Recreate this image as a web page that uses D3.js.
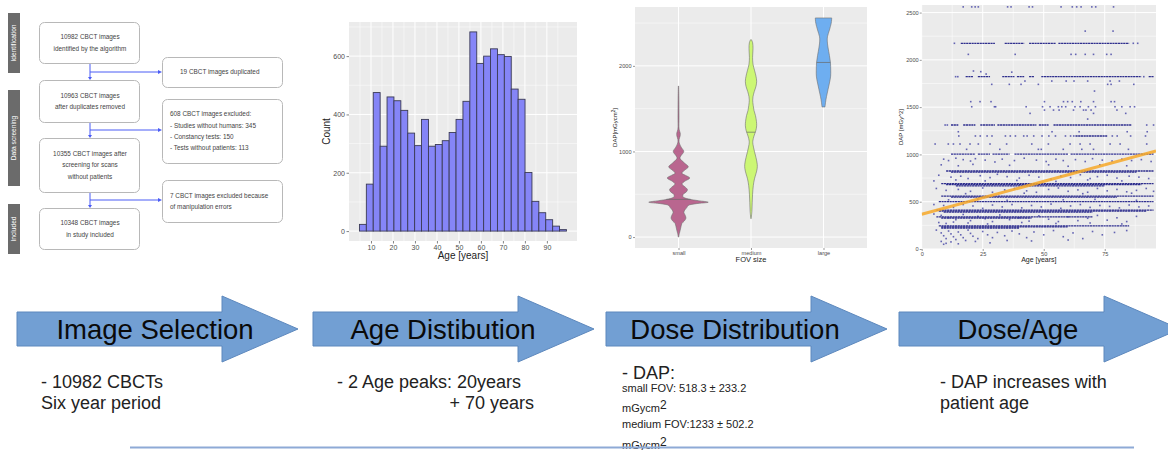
<!DOCTYPE html>
<html><head><meta charset="utf-8">
<script src="https://cdn.jsdelivr.net/npm/d3@7"></script>
<style>
html,body{margin:0;padding:0;background:#fff;}
svg{display:block;font-family:"Liberation Sans",Arial,Helvetica,sans-serif;}
</style></head><body>
<svg id="chart" width="1168" height="450"></svg>
<script>
// ---------- flow diagram text ----------
const flowStages = ["Identification", "Data screening", "Included"];
const flowMain = [
  ["10982 CBCT images", "identified by the algorithm"],
  ["10963 CBCT images", "after duplicates removed"],
  ["10355 CBCT images after", "screening for scans", "without patients"],
  ["10348 CBCT images", "in study included"]
];
const flowExcluded = [
  ["19 CBCT images duplicated"],
  ["608 CBCT images excluded:", "-  Studies without humans: 345", "-  Constancy tests: 150", "-  Tests without patients: 113"],
  ["7 CBCT images excluded because", "of manipulation errors"]
];

// ---------- age histogram ----------
const ageBinCounts = [23, 161, 475, 291, 460, 447, 414, 336, 293, 383, 291, 297, 310, 338, 383,
                      445, 683, 575, 600, 625, 605, 599, 487, 452, 201, 102, 63, 39, 17, 5];
const ageBinRange = [4.75, 98.9];
const ageTicks = [10, 20, 30, 40, 50, 60, 70, 80, 90];
const countTicks = [0, 200, 400, 600];

// ---------- DAP by FOV size (violin profiles: [DAP, density]) ----------
const fovCategories = ["small", "medium", "large"];
const fovColors = ["#b9668f", "#ccf774", "#6eaef0"];
const smallFovDensity = [
  [0, 0.7], [40, 2.7], [80, 5.7], [120, 8.3], [160, 11.7], [190, 20], [220, 25], [250, 23],
  [290, 18], [320, 22], [345, 28], [370, 33], [390, 60], [407, 100], [425, 67], [445, 33],
  [470, 15], [500, 16], [530, 27], [555, 30], [585, 22], [620, 11.7], [650, 20], [690, 38],
  [720, 24], [745, 11.7], [775, 18], [820, 33], [865, 20], [920, 5], [950, 8.3], [1000, 17.7],
  [1050, 9], [1100, 2.5], [1140, 2], [1185, 5.7], [1215, 5.7], [1260, 2], [1400, 1.7],
  [1600, 1.3], [1764, 0.6]
];
const mediumFovDensity = [
  [215, 0.5], [300, 3], [400, 4], [500, 5.3], [600, 7.7], [680, 11.7], [740, 16.7], [800, 20.7],
  [850, 21], [930, 16.7], [1000, 11.7], [1080, 6.7], [1120, 6], [1180, 10], [1240, 16],
  [1300, 19], [1350, 18.3], [1420, 15], [1480, 10], [1540, 7.3], [1600, 5.7], [1640, 6.7],
  [1700, 11], [1760, 16.7], [1820, 19], [1880, 16.7], [1950, 11.7], [2020, 6.7], [2100, 5.3],
  [2200, 6.7], [2270, 5.5], [2305, 1.5]
];
const largeFovDensity = [
  [1520, 5], [1570, 6.7], [1640, 10], [1720, 15], [1800, 20], [1880, 24], [1950, 24.3],
  [2040, 23.3], [2120, 20], [2220, 15], [2290, 12.7], [2340, 13.3], [2420, 20], [2500, 26],
  [2560, 27.7]
];
const fovMedians = [440, 1225, 2040];
const dapTicksV = [0, 1000, 2000];

// ---------- DAP vs age scatter ----------
const dapTicksS = [0, 500, 1000, 1500, 2000, 2500];
const ageTicksS = [0, 25, 50, 75];
// dense horizontal streaks of repeated DAP values: [DAP, from age, to age]
const dapBands = [
  [2175, 16, 30], [2175, 34, 42], [2175, 44, 55], [2175, 56, 85],
  [1822, 18, 21], [1822, 23, 28], [1822, 33, 38], [1822, 39, 42], [1822, 44, 46], [1822, 49, 90], [1822, 93, 95],
  [1311, 12, 15], [1311, 17, 22], [1311, 24, 30], [1311, 31, 47], [1311, 48, 52], [1311, 54, 86],
  [1195, 63, 76],
  [1004, 12, 22], [1004, 23, 28], [1004, 29, 36], [1004, 38, 60], [1004, 61, 95],
  [825, 10, 95], [812, 12, 88],
  [692, 8, 95], [680, 10, 90], [668, 14, 75],
  [560, 8, 95], [548, 12, 80],
  [500, 7, 95],
  [410, 6, 95], [400, 7, 92], [390, 9, 70],
  [340, 6, 70], [328, 8, 45],
  [245, 7, 85], [235, 8, 60], [222, 8, 40]
];
const dapPoints = [
  [17, 2560], [20.5, 2560], [21.9, 2560], [23.2, 2560], [35.2, 2560], [36.6, 2560], [44, 2560], [45.4, 2560],
  [57.1, 2560], [61.7, 2560], [63.5, 2560], [65.3, 2560], [69.7, 2560], [71.3, 2560], [78.6, 2560],
  [67, 2304], [78.4, 2304],
  [13.4, 2175], [86.7, 2175], [88.5, 2175],
  [19.1, 2058], [38.3, 2058], [61.2, 2058], [63.1, 2058], [67, 2058], [70.4, 2058], [75.8, 2058], [77.6, 2058],
  [21.2, 1882], [24.2, 1875], [26.4, 1850], [36.9, 1870],
  [13.9, 1822], [14.8, 1822], [91, 1822],
  [42.3, 1776], [53.3, 1776], [59.2, 1776], [62.4, 1776], [68, 1776], [77.2, 1776], [81, 1776],
  [28.7, 1741], [35.9, 1741], [40.7, 1741], [47.8, 1741], [86.9, 1741], [77.6, 1741], [76.2, 1741],
  [70.8, 1670],
  [20.1, 1558], [23.9, 1558], [28.4, 1558], [50.3, 1558], [58.1, 1558], [59.8, 1558], [61.7, 1558],
  [65.2, 1558], [70.4, 1558], [77.6, 1558], [79, 1558],
  [20.5, 1504], [29.8, 1504], [30.3, 1504], [42.8, 1504], [49.5, 1504], [52.6, 1504], [56, 1504],
  [57.4, 1504], [59, 1504], [62.8, 1504], [64.9, 1504], [68.3, 1504], [71.2, 1504], [79.2, 1504],
  [82, 1504], [85.4, 1504], [87.2, 1504],
  [50.3, 1469], [54, 1469], [56.3, 1469], [62.2, 1469], [66.3, 1469], [67.3, 1469], [69.4, 1469], [80, 1469],
  [44.4, 1434], [70.4, 1434], [83.6, 1434],
  [68, 1374],
  [9.6, 1311], [10.5, 1311], [92.2, 1311], [95, 1311],
  [15, 1240], [53.4, 1240], [64.5, 1240], [84.2, 1240], [92.4, 1240],
  [15.2, 1195], [22, 1195], [24, 1195], [26.8, 1195], [28.8, 1195], [34.3, 1195], [36.3, 1195],
  [38.4, 1195], [41.8, 1195], [43.2, 1195], [45.9, 1195], [49.3, 1195], [52.1, 1195], [54.8, 1195],
  [58.9, 1195], [61, 1195], [62.3, 1195], [78.1, 1195], [80.1, 1195], [85.6, 1195], [91.7, 1195],
  [5.5, 1110], [10.9, 1110], [13, 1110], [15.7, 1110], [19.8, 1110], [23.2, 1110], [28, 1110],
  [34.8, 1110], [45.1, 1110], [51.9, 1110], [60.8, 1110], [64.9, 1110], [69, 1110], [77.2, 1110],
  [81.3, 1110], [92.2, 1110],
  [18.4, 1054], [32, 1054], [47.8, 1054], [49, 1054], [58, 1054], [65.6, 1054], [70.4, 1054], [84.7, 1054],
  [9, 950], [11, 935], [14, 960], [17, 945], [20, 930], [22, 955], [26, 940], [30, 920], [33, 950],
  [38, 935], [42, 960], [47, 940], [51, 925], [55, 950], [58, 935], [63, 945], [67, 925], [70, 955],
  [74, 940], [78, 930], [82, 950], [86, 935], [90, 945], [94, 925],
  [8, 890], [15, 880], [21, 895], [36, 885], [52, 890], [60, 875], [73, 890], [84, 880],
  [7, 780], [12, 760], [16, 770], [19, 745], [24, 775], [28, 755], [31, 790], [35, 765], [40, 750],
  [44, 780], [48, 760], [53, 740], [57, 770], [61, 755], [65, 785], [69, 745], [72, 765], [76, 780],
  [80, 750], [85, 770], [89, 760], [93, 745], [5, 720], [14, 730], [26, 720], [39, 725], [55, 715],
  [68, 730], [82, 720],
  [6, 640], [10, 620], [15, 630], [20, 610], [25, 645], [29, 600], [34, 625], [38, 640], [43, 615],
  [47, 600], [52, 630], [56, 645], [60, 610], [64, 625], [68, 600], [72, 640], [76, 615], [80, 630],
  [84, 605], [88, 620], [92, 640], [95, 610], [18, 585], [42, 590], [66, 585], [86, 590],
  [5, 470], [9, 460], [13, 440], [17, 470], [21, 455], [25, 430], [29, 465], [33, 445], [37, 470],
  [41, 435], [45, 460], [49, 445], [53, 475], [57, 430], [61, 455], [65, 470], [69, 440], [73, 460],
  [77, 450], [81, 435], [85, 465], [89, 445], [93, 455],
  [11, 520], [23, 525], [35, 515], [58, 520], [71, 525], [88, 515],
  [5, 370], [8, 355], [11, 330], [14, 310], [17, 365], [20, 300], [23, 345], [26, 320], [29, 290],
  [32, 360], [36, 310], [40, 330], [44, 295], [48, 350], [52, 315], [56, 290], [60, 340], [64, 300],
  [68, 325], [72, 355], [76, 305], [80, 330], [84, 290], [88, 345],
  [7, 280], [10, 270], [13, 285], [19, 275], [27, 265], [41, 280], [55, 270], [69, 275], [82, 265],
  [6, 200], [8, 170], [9, 140], [10, 110], [11, 190], [12, 160], [13, 130], [14, 100], [15, 180],
  [16, 150], [17, 120], [18, 90], [19, 200], [20, 165], [21, 135], [23, 110], [25, 185], [27, 150],
  [29, 120], [31, 175], [34, 140], [37, 190], [40, 160], [43, 120], [46, 180], [50, 150], [54, 195],
  [58, 130], [62, 170], [66, 110], [70, 185], [74, 150], [79, 175], [84, 195],
  [8, 80], [10, 60], [12, 75], [15, 55], [9, 50], [22, 80], [28, 65], [35, 90], [45, 85], [60, 95]
];
// least-squares fit of DAP on age: [age, DAP] at both ends of the panel
const dapTrend = [[0, 367], [96, 1036]];

// ---------- summary row ----------
const stepLabels = ["Image Selection", "Age Distibution", "Dose Distribution", "Dose/Age"];
const stepNotes = [
  ["- 10982 CBCTs", "Six year period"],
  ["- 2 Age peaks: 20years", "+ 70 years"],
  ["- DAP increases with", "patient age"]
];
const doseNotes = ["small FOV: 518.3 \u00b1 233.2", "medium  FOV:1233 \u00b1 502.2"];

const svg = d3.select("#chart");
const PANEL_BG = "#ebebeb", TICK_TXT = "#4d4d4d";
const plainNum = d3.format("d");

// =============== flow diagram ===============
(function flow() {
  const g = svg.append("g");
  const stageBoxes = [[13, 73], [90, 186], [204, 254]];
  stageBoxes.forEach((b, i) => {
    g.append("rect").attr("x", 8).attr("y", b[0]).attr("width", 12).attr("height", b[1] - b[0])
      .attr("fill", "#6b6b6b");
    g.append("text").attr("transform", `translate(${14 + 2.3},${(b[0] + b[1]) / 2}) rotate(-90)`)
      .attr("text-anchor", "middle").attr("font-size", 6.6).attr("fill", "#fff").text(flowStages[i]);
  });
  const mainBoxes = [[22, 63], [80, 122], [138, 192], [208, 249]];
  const sideBoxes = [[57, 87], [99, 163], [180, 222]];
  const branchY = [72, 130, 200];
  const blue = "#4b5cf5";
  for (let i = 0; i < 3; i++) {
    g.append("line").attr("x1", 90).attr("x2", 90).attr("y1", mainBoxes[i][1]).attr("y2", mainBoxes[i + 1][0] - 2)
      .attr("stroke", blue).attr("stroke-width", 1);
    g.append("path").attr("d", `M88,${mainBoxes[i + 1][0] - 3} L92,${mainBoxes[i + 1][0] - 3} L90,${mainBoxes[i + 1][0]} Z`).attr("fill", blue);
    g.append("line").attr("x1", 90).attr("x2", 159).attr("y1", branchY[i]).attr("y2", branchY[i])
      .attr("stroke", blue).attr("stroke-width", 1);
    g.append("path").attr("d", `M158,${branchY[i] - 2} L162,${branchY[i]} L158,${branchY[i] + 2} Z`).attr("fill", blue);
  }
  mainBoxes.forEach((b, i) => {
    g.append("rect").attr("x", 39.5).attr("y", b[0] + 0.5).attr("width", 100).attr("height", b[1] - b[0])
      .attr("rx", 5).attr("fill", "#fff").attr("stroke", "#b8b8b8").attr("stroke-width", 1);
    const lines = flowMain[i], cy = (b[0] + b[1]) / 2, lh = 11.5;
    lines.forEach((t, j) => {
      g.append("text").attr("x", 90).attr("y", cy + (j - (lines.length - 1) / 2) * lh + 2.3)
        .attr("text-anchor", "middle").attr("font-size", 6.4).attr("fill", "#444").text(t);
    });
  });
  sideBoxes.forEach((b, i) => {
    g.append("rect").attr("x", 162.5).attr("y", b[0] + 0.5).attr("width", 120).attr("height", b[1] - b[0])
      .attr("rx", 5).attr("fill", "#fff").attr("stroke", "#b8b8b8").attr("stroke-width", 1);
    const lines = flowExcluded[i], cy = (b[0] + b[1]) / 2, lh = 11.3;
    lines.forEach((t, j) => {
      g.append("text").attr("x", i === 0 ? 180 : 170).attr("y", cy + (j - (lines.length - 1) / 2) * lh + 2.3)
        .attr("font-size", 6.4).attr("fill", "#444").text(t);
    });
  });
})();

// ggplot-style white grid lines
function gridLines(g, scale, values, horizontal, x0, x1, w) {
  values.forEach(v => {
    const p = scale(v);
    if (horizontal) g.append("line").attr("x1", x0).attr("x2", x1).attr("y1", p).attr("y2", p);
    else g.append("line").attr("y1", x0).attr("y2", x1).attr("x1", p).attr("x2", p);
  });
  g.attr("stroke", "#fff").attr("stroke-width", w);
}

function styleAxes(axes, size, tickColor) {
  axes.forEach(a => {
    a.select(".domain").remove();
    a.selectAll(".tick line").attr("stroke", tickColor).attr("stroke-width", 0.6);
    a.selectAll("text").attr("font-size", size).attr("fill", TICK_TXT).attr("font-family", "Liberation Sans, Arial");
  });
}

// =============== age histogram ===============
(function histogram() {
  const L = 349, R = 577, T = 22, B = 241;
  const x = d3.scaleLinear().domain([0, 103.7]).range([L, R]);
  const y = d3.scaleLinear().domain([-34, 717]).range([B, T]);
  const g = svg.append("g");
  g.append("rect").attr("x", L).attr("y", T).attr("width", R - L).attr("height", B - T).attr("fill", PANEL_BG);
  gridLines(g.append("g"), y, [100, 300, 500, 700], true, L, R, 0.5);
  gridLines(g.append("g"), x, [5, 15, 25, 35, 45, 55, 65, 75, 85, 95], false, T, B, 0.5);
  gridLines(g.append("g"), y, countTicks, true, L, R, 1);
  gridLines(g.append("g"), x, ageTicks, false, T, B, 1);
  const bw = (ageBinRange[1] - ageBinRange[0]) / ageBinCounts.length;
  g.append("g").selectAll("rect").data(ageBinCounts).join("rect")
    .attr("x", (d, i) => x(ageBinRange[0] + i * bw))
    .attr("width", (d, i) => x(ageBinRange[0] + (i + 1) * bw) - x(ageBinRange[0] + i * bw))
    .attr("y", d => y(d)).attr("height", d => y(0) - y(d))
    .attr("fill", "#8585f7").attr("stroke", "#3b3b55").attr("stroke-width", 0.9);
  const ax = g.append("g").attr("transform", `translate(0,${B})`)
    .call(d3.axisBottom(x).tickValues(ageTicks).tickFormat(plainNum).tickSize(2.5).tickPadding(1.5));
  const ay = g.append("g").attr("transform", `translate(${L},0)`)
    .call(d3.axisLeft(y).tickValues(countTicks).tickFormat(plainNum).tickSize(2.5).tickPadding(1.5));
  styleAxes([ax, ay], 7, "#333");
  g.append("text").attr("x", (L + R) / 2).attr("y", 259).attr("text-anchor", "middle")
    .attr("font-size", 10).attr("fill", "#222").text("Age [years]");
  g.append("text").attr("transform", `translate(330,${(T + B) / 2}) rotate(-90)`).attr("text-anchor", "middle")
    .attr("font-size", 10).attr("fill", "#222").text("Count");
})();

// =============== violin plot ===============
(function violins() {
  const L = 635, R = 867, T = 7, B = 248;
  const x = d3.scalePoint().domain(fovCategories).range([L, R]).padding(0.6);
  const y = d3.scaleLinear().domain([-128, 2688]).range([B, T]);
  const step = x.step();
  const w = d3.scaleLinear().domain([0, 100]).range([0, step * 0.41]);
  const g = svg.append("g");
  g.append("rect").attr("x", L).attr("y", T).attr("width", R - L).attr("height", B - T).attr("fill", PANEL_BG);
  gridLines(g.append("g"), y, [500, 1500, 2500], true, L, R, 0.5);
  gridLines(g.append("g"), y, dapTicksV, true, L, R, 1);
  gridLines(g.append("g"), x, fovCategories, false, T, B, 1);
  const profiles = [smallFovDensity, mediumFovDensity, largeFovDensity];
  profiles.forEach((prof, i) => {
    const cx = x(fovCategories[i]);
    const area = d3.area().curve(d3.curveCatmullRom.alpha(0.5))
      .y(d => y(d[0])).x0(d => cx - w(d[1])).x1(d => cx + w(d[1]));
    g.append("path").datum(prof).attr("d", area)
      .attr("fill", fovColors[i]).attr("stroke", "#6f6f6f").attr("stroke-width", 0.6);
    // median line across the violin
    const m = fovMedians[i];
    let k = prof.findIndex(d => d[0] >= m);
    if (k < 1) k = 1;
    const a = prof[k - 1], b = prof[k];
    const dens = a[1] + (b[1] - a[1]) * (m - a[0]) / (b[0] - a[0]);
    g.append("line").attr("x1", cx - w(dens)).attr("x2", cx + w(dens)).attr("y1", y(m)).attr("y2", y(m))
      .attr("stroke", "#6a6a6a").attr("stroke-width", 0.7);
  });
  const ax = g.append("g").attr("transform", `translate(0,${B})`)
    .call(d3.axisBottom(x).tickSize(2).tickPadding(1.5));
  const ay = g.append("g").attr("transform", `translate(${L},0)`)
    .call(d3.axisLeft(y).tickValues(dapTicksV).tickFormat(plainNum).tickSize(2).tickPadding(1.5));
  styleAxes([ax, ay], 5.6, "#555");
  g.append("text").attr("x", (L + R) / 2).attr("y", 262).attr("text-anchor", "middle")
    .attr("font-size", 7.5).attr("fill", "#222").text("FOV size");
  const yl = g.append("text").attr("transform", `translate(617,${(T + B) / 2}) rotate(-90)`).attr("text-anchor", "middle")
    .attr("font-size", 6).attr("fill", "#222");
  yl.append("tspan").text("DAP[mGycm");
  yl.append("tspan").attr("font-size", 4.5).attr("dy", -2.2).text("2");
  yl.append("tspan").attr("dy", 2.2).text("]");
})();

// =============== scatter DAP vs age ===============
(function scatter() {
  const L = 921.7, R = 1156, T = 5, B = 249;
  const x = d3.scaleLinear().domain([0, 96]).range([L, R]);
  const y = d3.scaleLinear().domain([0, 2580]).range([B, T]);
  const g = svg.append("g");
  g.append("rect").attr("x", L).attr("y", T).attr("width", R - L).attr("height", B - T).attr("fill", PANEL_BG);
  gridLines(g.append("g"), y, [250, 750, 1250, 1750, 2250], true, L, R, 0.5);
  gridLines(g.append("g"), x, [12.5, 37.5, 62.5, 87.5], false, T, B, 0.5);
  gridLines(g.append("g"), y, dapTicksS, true, L, R, 1);
  gridLines(g.append("g"), x, ageTicksS, false, T, B, 1);
  const clip = g.append("clipPath").attr("id", "scClip");
  clip.append("rect").attr("x", L).attr("y", T).attr("width", R - L).attr("height", B - T);
  const pg = g.append("g").attr("clip-path", "url(#scClip)");
  pg.append("g").selectAll("line").data(dapBands).join("line")
    .attr("x1", d => x(d[1])).attr("x2", d => x(d[2])).attr("y1", d => y(d[0])).attr("y2", d => y(d[0]))
    .attr("stroke", "#1b1b85").attr("stroke-width", 1.3).attr("stroke-dasharray", "2.2 0.5").attr("opacity", 0.9);
  pg.append("g").selectAll("rect").data(dapPoints).join("rect")
    .attr("x", d => x(d[0]) - 0.8).attr("y", d => y(d[1]) - 0.8).attr("width", 1.6).attr("height", 1.6)
    .attr("fill", "#2a2a9a").attr("opacity", 0.7);
  pg.append("line").attr("x1", x(dapTrend[0][0])).attr("y1", y(dapTrend[0][1]))
    .attr("x2", x(dapTrend[1][0])).attr("y2", y(dapTrend[1][1]))
    .attr("stroke", "#f7a928").attr("stroke-width", 3).attr("opacity", 0.85);
  const ax = g.append("g").attr("transform", `translate(0,${B})`)
    .call(d3.axisBottom(x).tickValues(ageTicksS).tickFormat(plainNum).tickSize(2).tickPadding(1));
  const ay = g.append("g").attr("transform", `translate(${L},0)`)
    .call(d3.axisLeft(y).tickValues(dapTicksS).tickFormat(plainNum).tickSize(2).tickPadding(1));
  styleAxes([ax, ay], 5.6, "#555");
  g.append("text").attr("x", (L + R) / 2).attr("y", 262).attr("text-anchor", "middle")
    .attr("font-size", 7).attr("fill", "#222").text("Age [years]");
  g.append("text").attr("transform", `translate(903,${(T + B) / 2}) rotate(-90)`).attr("text-anchor", "middle")
    .attr("font-size", 6).attr("fill", "#222").text("DAP [mGy^2]");
})();

// =============== process arrows and notes ===============
(function steps() {
  const g = svg.append("g");
  const starts = [17, 313, 606, 899];
  const labelCx = [155, 443, 735, 1018];
  const bodyLen = 205, headLen = 76, bodyT = 312, bodyB = 346, headT = 296, headB = 362, midY = 329;
  starts.forEach((x0, i) => {
    const xb = x0 + bodyLen, xt = xb + headLen;
    g.append("path")
      .attr("d", `M${x0},${bodyT} L${xb},${bodyT} L${xb},${headT} L${xt},${midY} L${xb},${headB} L${xb},${bodyB} L${x0},${bodyB} Z`)
      .attr("fill", "#729fd3").attr("stroke", "#5d88bd").attr("stroke-width", 1);
    g.append("text").attr("x", labelCx[i]).attr("y", 339).attr("text-anchor", "middle")
      .attr("font-size", 27.5).attr("fill", "#0a0a0a").text(stepLabels[i]);
  });
  const note = (x, yy, t, anchor) => g.append("text").attr("x", x).attr("y", yy)
    .attr("text-anchor", anchor || "start").attr("font-size", 18).attr("fill", "#222").text(t);
  note(41, 388, stepNotes[0][0]);
  note(41, 409, stepNotes[0][1]);
  note(337, 388, stepNotes[1][0]);
  note(534, 409, stepNotes[1][1], "end");
  note(940, 388, stepNotes[2][0]);
  note(940, 409, stepNotes[2][1]);
  // dose summary
  const narrow = "'Liberation Sans Narrow', 'Arial Narrow', Arial";
  g.append("text").attr("x", 622).attr("y", 379).attr("font-size", 18).attr("fill", "#222").text("- DAP:");
  const small = (yy, t) => g.append("text").attr("x", 622).attr("y", yy).attr("font-size", 11)
    .attr("font-family", narrow).attr("fill", "#222").text(t);
  small(392, doseNotes[0]);
  small(428, doseNotes[1]);
  [412, 449].forEach(yy => {
    const t = g.append("text").attr("x", 622).attr("y", yy).attr("font-size", 11)
      .attr("font-family", narrow).attr("fill", "#222");
    t.append("tspan").text("mGycm");
    t.append("tspan").attr("dy", -3).attr("font-size", 12).text("2");
  });
  g.append("line").attr("x1", 130).attr("x2", 1134).attr("y1", 447.5).attr("y2", 447.5)
    .attr("stroke", "#8eaad6").attr("stroke-width", 2);
})();
</script></body></html>
